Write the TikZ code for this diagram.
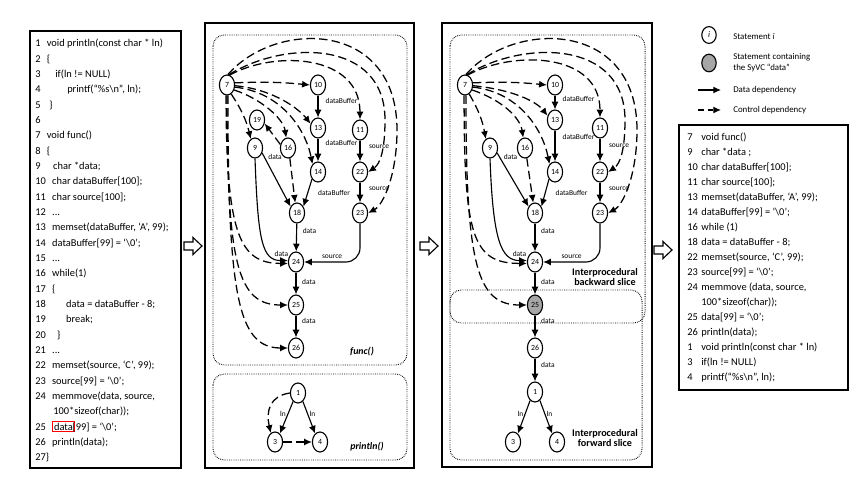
\documentclass[tikz,border=0pt]{standalone}
\usepackage{fontspec}
\setmainfont{Carlito}
\usetikzlibrary{arrows.meta, shapes.geometric, positioning}
\newcommand{\lno}[1]{#1\hspace{4.5pt}}
\newcommand{\rno}[1]{\makebox[10pt][l]{#1}}

\begin{document}
\begin{tikzpicture}[
  x=0.025cm, y=0.025cm,
  stmt/.style={draw, ellipse, line width=0.8pt, minimum width=0.38cm, minimum height=0.5cm, inner sep=0pt, font=\fontsize{5.6}{6}\selectfont},
  dd/.style={-{Latex[length=5.5pt,width=5pt]}, line width=0.8pt},
  cd/.style={dd, dash pattern=on 6pt off 3pt, line width=0.9pt},
  lbl/.style={font=\fontsize{5.3}{6}\selectfont, inner sep=1pt},
  leg/.style={font=\fontsize{6.3}{7.8}\selectfont, align=left, anchor=west, inner sep=0pt},
  panel/.style={draw, line width=0.8pt},
  sliced/.style={draw, dash pattern=on 0.5pt off 0.8pt, line width=0.7pt, rounded corners=8pt},
  codetext/.style={align=left, inner sep=0pt, anchor=north west},
  fname/.style={font=\bfseries\itshape\fontsize{7}{8}\selectfont},
  slabel/.style={font=\bfseries\fontsize{7.2}{7.8}\selectfont, align=center},
  bigarrow/.style={draw, line width=0.8pt, fill=white, line join=miter},
]
\useasboundingbox (0,0) rectangle (867,-490);

% frames
\draw[panel] (30,-31) rectangle (181,-468);
\draw[panel] (205,-23) rectangle (414,-468);
\draw[panel] (442,-23) rectangle (652,-467);
\draw[panel] (679,-125) rectangle (848,-390);

% source code
\node[codetext, font=\fontsize{7.4}{10.9}\selectfont] (src) at (35,-39) {%
\lno{1}void println(const char * ln)\\
\lno{2}\{\\
\lno{3}\hspace{6pt}if(ln != NULL)\\
\lno{4}\hspace{14.5pt}printf(``\%s\textbackslash n'', ln);\\
\lno{5}\hspace{1.7pt}\}\\
6\\
\lno{7}void func()\\
\lno{8}\{\\
\lno{9}\hspace{4.5pt}char *data;\\
\lno{10}char dataBuffer[100];\\
\lno{11}char source[100];\\
\lno{12}...\\
\lno{13}memset(dataBuffer, `A', 99);\\
\lno{14}dataBuffer[99] = `\textbackslash 0';\\
\lno{15}...\\
\lno{16}while(1)\\
\lno{17}\{\\
\lno{18}\hspace{10pt}data = dataBuffer - 8;\\
\lno{19}\hspace{10pt}break;\\
\lno{20}\hspace{3.5pt}\}\\
\lno{21}...\\
\lno{22}memset(source, `C', 99);\\
\lno{23}source[99] = `\textbackslash 0';\\
\lno{24}memmove(data, source,\\
\hspace{12.8pt}100*sizeof(char));\\
\lno{25}{\fboxsep=0.8pt\fboxrule=0.6pt\fcolorbox{red}{white}{data}}\kern-1.5pt[99] = `\textbackslash 0';\\
\lno{26}println(data);\\
27\}};

% func() graph
\draw[sliced] (213,-35) rectangle (407,-365);
\draw[sliced] (213,-374) rectangle (407,-460);
\node[stmt] (a7)  at (227,-85)  {7};
\node[stmt] (a10) at (318,-85)  {10};
\node[stmt] (a13) at (318,-128) {13};
\node[stmt] (a14) at (318,-172) {14};
\node[stmt] (a11) at (360,-130) {11};
\node[stmt] (a22) at (360,-172) {22};
\node[stmt] (a23) at (360,-213) {23};
\node[stmt] (a19) at (257,-120) {19};
\node[stmt] (a9)  at (255,-148) {9};
\node[stmt] (a16) at (288,-148) {16};
\node[stmt] (a18) at (297,-213) {18};
\node[stmt] (a24) at (296,-262) {24};
\node[stmt] (a25) at (296,-305) {25};
\node[stmt] (a26) at (296,-348) {26};
\node[fname] (afunc) at (362,-352) {func()};

\draw[cd] (a7.15) to[bend left=4] (a10.west);
\draw[cd] (a7.-5) .. controls +(40,-4) and +(-11,14) .. (a13.150);
\draw[cd] (a7.-15) .. controls +(46,-5) and +(-7,35) .. (a14.125);
\draw[cd] (a7.-35) .. controls +(25,-8) and +(-3,20) .. (a16.100);
\draw[cd] (a7.-65) to[bend left=10] (a9.115);
\draw[cd] (a7.75) .. controls +(46,25) and +(0,65) .. (a11.north);
\draw[cd] (a7.80) .. controls +(57,35) and +(0,80) .. ([shift={(25,52)}]a22.center)
  .. controls +(0,-30) and +(12,8) .. (a22.east);
\draw[cd] (a7.85) .. controls +(48,55) and +(0,110) .. ([shift={(37,83)}]a23.center)
  .. controls +(0,-45) and +(15,8) .. (a23.east);
\draw[cd] (a7.-95) .. controls +(0,-140) and +(-48,0) .. (a24.190);
\draw[cd] (a7.-90) .. controls +(0,-170) and +(-50,0) .. (a25.west);
\draw[cd] (a7.-85) .. controls +(0,-200) and +(-50,0) .. (a26.west);
\draw[cd] (a16.155) -- (a19.-25);
\draw[cd] (a16.-80) -- (a18.100);

\draw[dd] (a10) -- node[lbl, right=4pt, pos=0.25] {dataBuffer} (a13);
\draw[dd] (a13) -- node[lbl, right=4pt, pos=0.2] {dataBuffer} (a14);
\draw[dd] (a14.-130) -- node[lbl, right=6pt, pos=0.5] {dataBuffer} (a18.45);
\draw[dd] (a11) -- node[lbl, right=5pt, pos=0.3] {source} (a22);
\draw[dd] (a22) -- node[lbl, right=5pt, pos=0.3] {source} (a23);
\draw[dd] (a9.-35) -- node[lbl, anchor=south west, pos=0.15] {data} (a18.135);
\draw[dd] (a9.south) .. controls +(3,-82) and +(-26,0) .. node[lbl, right=2pt, pos=0.7] {data} (a24.170);
\draw[dd] (a18) -- node[lbl, right=3pt, pos=0.25] {data} (a24);
\draw[dd, rounded corners=10pt] (a23.south) |- node[lbl, above=1pt, pos=0.75] {source} (a24.east);
\draw[dd] (a24) -- node[lbl, right=3pt, pos=0.45] {data} (a25);
\draw[dd] (a25) -- node[lbl, right=3pt, pos=0.25] {data} (a26);

% println() graph
\node[stmt] (a1) at (298,-393) {1};
\node[stmt] (a3) at (275,-442) {3};
\node[stmt] (a4) at (320,-442) {4};
\node[fname] (aprint) at (367,-447) {println()};
\draw[dd] (a1.-120) -- node[lbl, left, pos=0.4] {ln} (a3.60);
\draw[dd] (a1.-60) -- node[lbl, right, pos=0.4] {ln} (a4.120);
\draw[cd] (a1.west) .. controls +(-20,-3) and +(-5,22) .. (a3.115);
\draw[cd] (a3.east) -- (a4.west);

% interprocedural slice
\draw[sliced] (450,-35) rectangle (645,-323);
\draw[sliced] (450,-290) rectangle (642,-460);
\node[stmt] (b7)  at (465,-85)  {7};
\node[stmt] (b10) at (555,-85)  {10};
\node[stmt] (b13) at (555,-120) {13};
\node[stmt] (b14) at (555,-172) {14};
\node[stmt] (b11) at (600,-128) {11};
\node[stmt] (b22) at (600,-172) {22};
\node[stmt] (b23) at (600,-213) {23};
\node[stmt] (b9)  at (490,-148) {9};
\node[stmt] (b16) at (525,-148) {16};
\node[stmt] (b18) at (535,-213) {18};
\node[stmt] (b24) at (535,-262) {24};
\node[stmt, fill=black!35] (b25) at (535,-305) {25};
\node[stmt] (b26) at (535,-348) {26};
\node[stmt] (b1)  at (535,-392) {1};
\node[stmt] (b3)  at (513,-442) {3};
\node[stmt] (b4)  at (557,-442) {4};
\node[slabel] (bback) at (605,-277) {Interprocedural\\backward slice};
\node[slabel] (bfwd) at (605,-438) {Interprocedural\\forward slice};

\draw[cd] (b7.15) to[bend left=4] (b10.west);
\draw[cd] (b7.-5) .. controls +(40,-4) and +(-11,14) .. (b13.150);
\draw[cd] (b7.-15) .. controls +(46,-5) and +(-7,35) .. (b14.125);
\draw[cd] (b7.-35) .. controls +(30,-10) and +(-3,20) .. (b16.100);
\draw[cd] (b7.-65) to[bend left=10] (b9.115);
\draw[cd] (b7.75) .. controls +(46,25) and +(0,65) .. (b11.north);
\draw[cd] (b7.80) .. controls +(57,35) and +(0,80) .. ([shift={(25,52)}]b22.center)
  .. controls +(0,-30) and +(12,8) .. (b22.east);
\draw[cd] (b7.85) .. controls +(48,55) and +(0,110) .. ([shift={(37,83)}]b23.center)
  .. controls +(0,-45) and +(15,8) .. (b23.east);
\draw[cd] (b7.-95) .. controls +(0,-140) and +(-55,0) .. (b24.190);
\draw[cd] (b7.-85) .. controls +(0,-170) and +(-50,0) .. (b25.west);
\draw[cd] (b16.-80) -- (b18.100);

\draw[dd] (b10) -- node[lbl, right=4pt, pos=0.25] {dataBuffer} (b13);
\draw[dd] (b13) -- node[lbl, right=4pt, pos=0.2] {dataBuffer} (b14);
\draw[dd] (b14.-130) -- node[lbl, right=6pt, pos=0.5] {dataBuffer} (b18.45);
\draw[dd] (b11) -- node[lbl, right=5pt, pos=0.3] {source} (b22);
\draw[dd] (b22) -- node[lbl, right=5pt, pos=0.3] {source} (b23);
\draw[dd] (b9.-35) -- node[lbl, anchor=south west, pos=0.15] {data} (b18.135);
\draw[dd] (b9.south) .. controls +(3,-82) and +(-26,0) .. node[lbl, right=2pt, pos=0.7] {data} (b24.170);
\draw[dd] (b18) -- node[lbl, right=3pt, pos=0.25] {data} (b24);
\draw[dd, rounded corners=10pt] (b23.south) |- node[lbl, above=1pt, pos=0.75] {source} (b24.east);
\draw[dd] (b24) -- node[lbl, right=3pt, pos=0.45] {data} (b25);
\draw[dd] (b25) -- node[lbl, right=3pt, pos=0.25] {data} (b26);
\draw[dd] (b26) -- node[lbl, right=3pt, pos=0.3] {data} (b1);
\draw[dd] (b1.-120) -- node[lbl, left, pos=0.4] {ln} (b3.60);
\draw[dd] (b1.-60) -- node[lbl, right, pos=0.4] {ln} (b4.120);

% arrows between the steps
\foreach \cx/\cy in {193/246, 429/246, 663/250}
  \draw[bigarrow] (\cx-9,-\cy+4) -- (\cx,-\cy+4) -- (\cx,-\cy+8.5) -- (\cx+9,-\cy)
    -- (\cx,-\cy-8.5) -- (\cx,-\cy-4) -- (\cx-9,-\cy-4) -- cycle;

% legend
\node[stmt, minimum width=0.36cm, minimum height=0.42cm, font=\fontsize{6}{7}\selectfont\itshape] (li) at (709,-35) {i};
\node[stmt, minimum width=0.36cm, minimum height=0.44cm, fill=black!35] (lg) at (709,-63) {};
\node[leg] (lit) at (733,-36) {Statement \textit{i}};
\node[leg] (lgt) at (733,-63) {Statement containing\\the SyVC ``data''};
\coordinate (ld0) at (698,-90);
\coordinate (ld1) at (721,-90);
\coordinate (lc0) at (698,-110);
\coordinate (lc1) at (721,-110);
\draw[dd, line width=0.9pt] (ld0) -- (ld1);
\draw[cd, dash pattern=on 4pt off 3pt, line width=0.9pt] (lc0) -- (lc1);
\node[leg] (ldt) at (733,-90) {Data dependency};
\node[leg] (lct) at (733,-110) {Control dependency};

% resulting slice
\node[codetext, font=\fontsize{7.4}{10.65}\selectfont] (slicecode) at (687,-133) {%
\rno{7}void func()\\
\rno{9}char *data ;\\
\rno{10}char dataBuffer[100];\\
\rno{11}char source[100];\\
\rno{13}memset(dataBuffer, `A', 99);\\
\rno{14}dataBuffer[99] = `\textbackslash 0';\\
\rno{16}while (1)\\
\rno{18}data = dataBuffer - 8;\\
\rno{22}memset(source, `C', 99);\\
\rno{23}source[99] = `\textbackslash 0';\\
\rno{24}memmove (data, source,\\
\rno{}100*sizeof(char));\\
\rno{25}data[99] = `\textbackslash 0';\\
\rno{26}println(data);\\
\rno{1}void println(const char * ln)\\
\rno{3}if(ln != NULL)\\
\rno{4}printf(``\%s\textbackslash n'', ln);};
\end{tikzpicture}
\end{document}
